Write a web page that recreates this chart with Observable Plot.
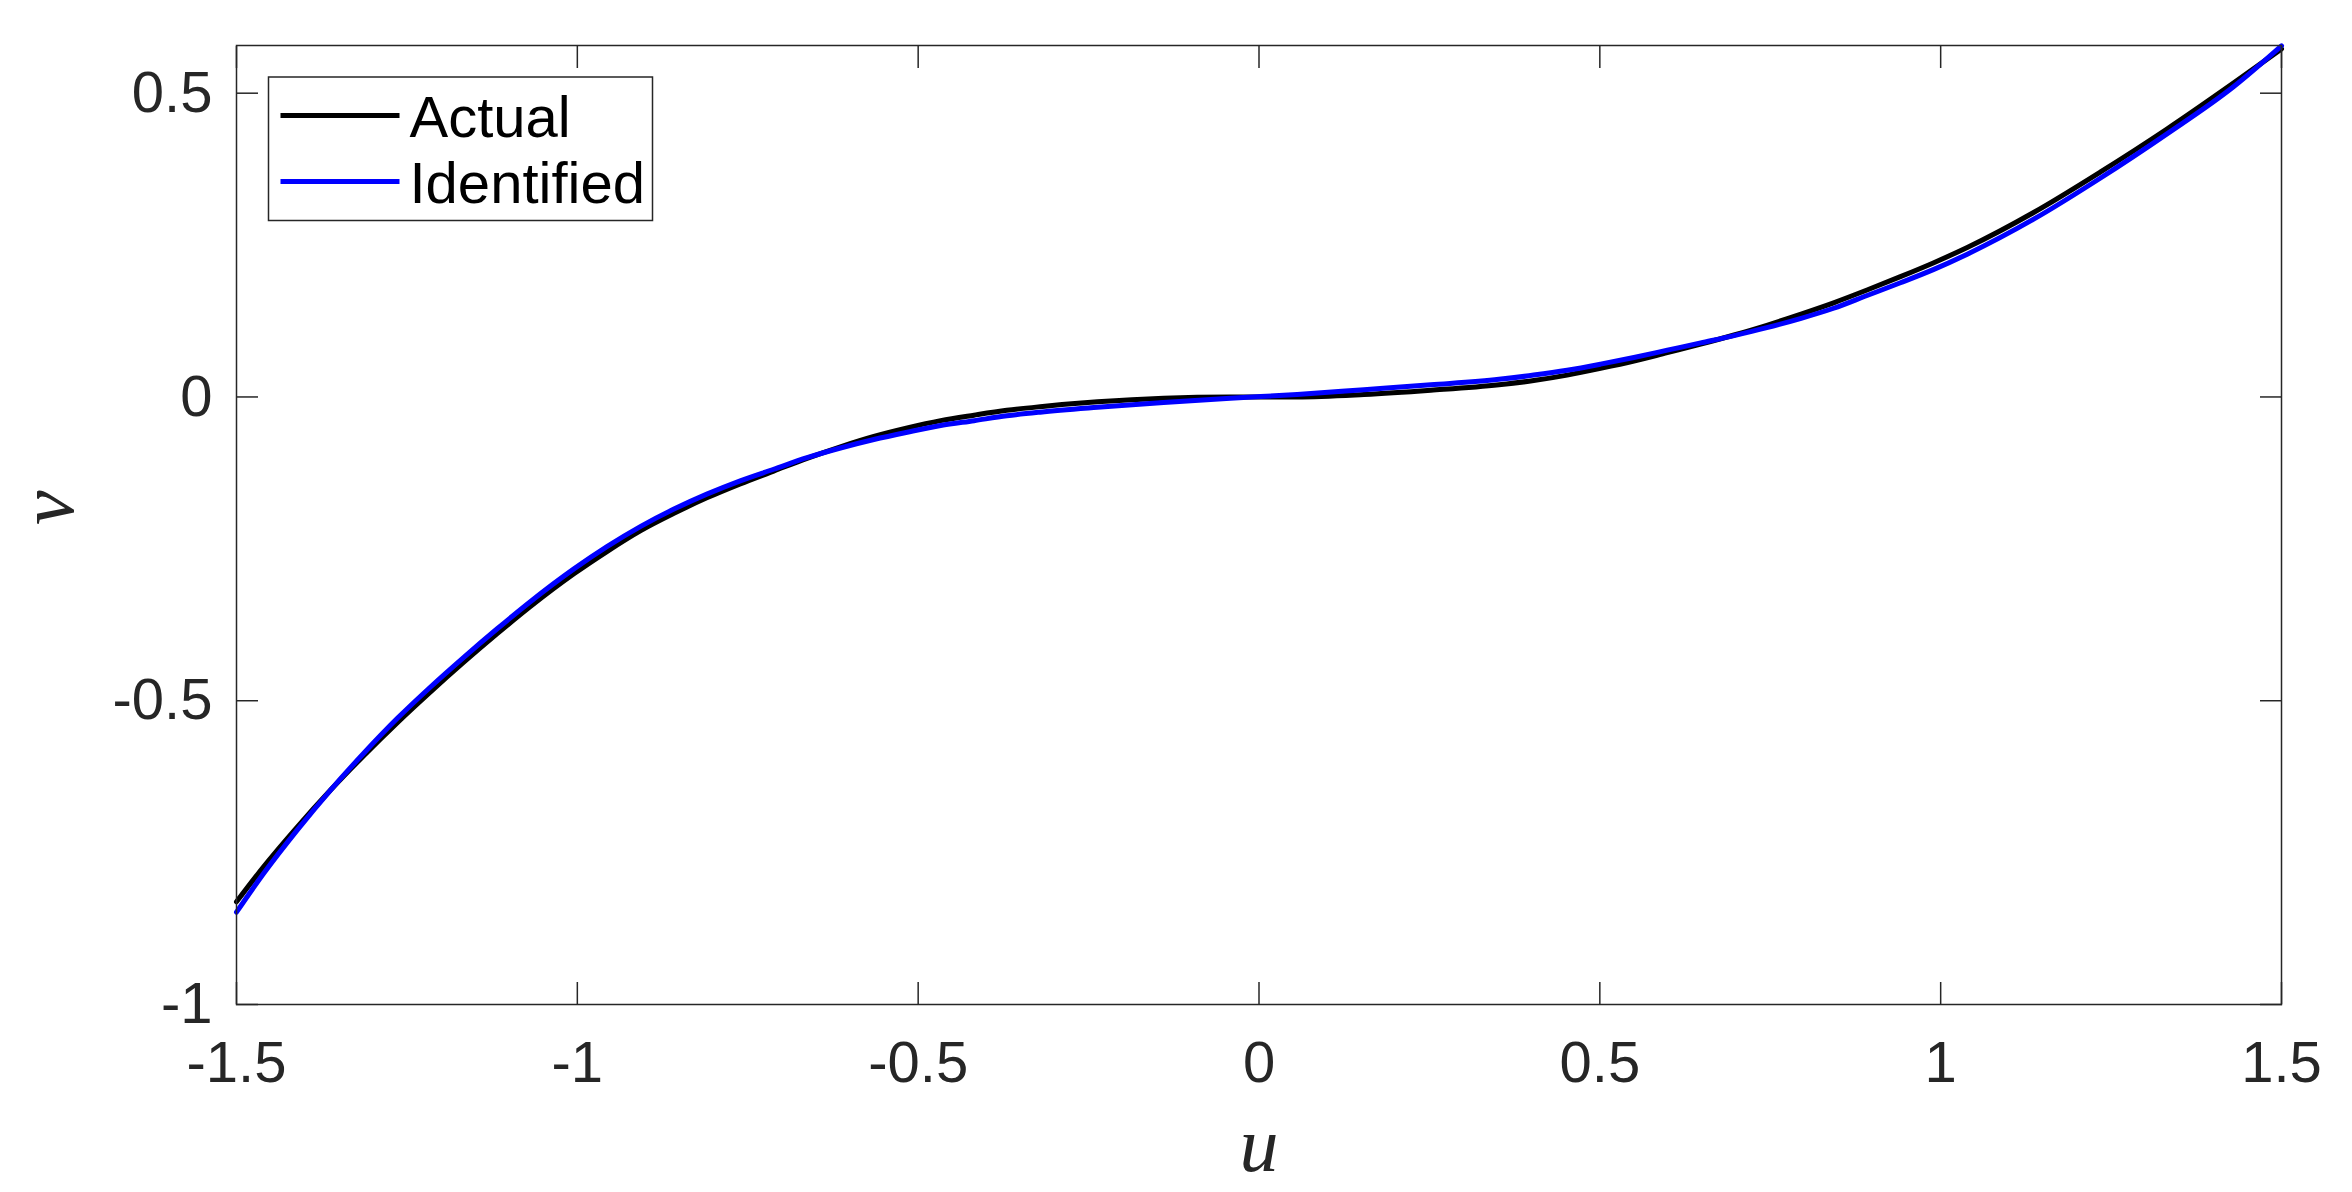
<!DOCTYPE html>
<html>
<head>
<meta charset="utf-8">
<script src="https://cdn.jsdelivr.net/npm/d3@7"></script>
<script src="https://cdn.jsdelivr.net/npm/@observablehq/plot@0.6"></script>
<style>
  html, body { margin: 0; padding: 0; background: #ffffff; }
  #chart svg { display: block; }
</style>
</head>
<body>
<div id="chart"></div>
<script>
// ---- data ----
const seriesNames = ["Actual", "Identified"];
const seriesColors = ["#000000", "#0000ff"];

const uValues = [
  -1.5, -1.46, -1.411, -1.362, -1.313, -1.264, -1.215, -1.167, -1.118, -1.069,
  -1.005, -0.956, -0.907, -0.859, -0.81, -0.761, -0.712, -0.663, -0.614, -0.565,
  -0.516, -0.467, -0.418, -0.37, -0.321, -0.237, -0.14, -0.042, 0.056, 0.154,
  0.252, 0.352, 0.403, 0.452, 0.501, 0.55, 0.599, 0.648, 0.697, 0.745,
  0.794, 0.843, 0.892, 0.941, 0.99, 1.039, 1.137, 1.234, 1.332, 1.43, 1.5
];
const actualV = [
  -0.831, -0.773, -0.708, -0.647, -0.590, -0.536, -0.485, -0.437, -0.390, -0.345,
  -0.291, -0.254, -0.220, -0.192, -0.166, -0.143, -0.122, -0.101, -0.082, -0.065,
  -0.051, -0.039, -0.030, -0.022, -0.016, -0.008, -0.002, 0.000, 0.000, 0.004,
  0.011, 0.020, 0.027, 0.036, 0.047, 0.059, 0.073, 0.087, 0.102, 0.118,
  0.136, 0.155, 0.176, 0.198, 0.221, 0.246, 0.304, 0.370, 0.441, 0.517, 0.573
];
const identifiedV = [
  -0.848, -0.784, -0.713, -0.647, -0.586, -0.529, -0.477, -0.429, -0.382, -0.337,
  -0.283, -0.246, -0.213, -0.185, -0.160, -0.138, -0.119, -0.100, -0.084, -0.070,
  -0.058, -0.047, -0.039, -0.031, -0.025, -0.017, -0.009, -0.002, 0.004, 0.012,
  0.020, 0.029, 0.036, 0.044, 0.054, 0.065, 0.077, 0.089, 0.101, 0.114,
  0.129, 0.146, 0.167, 0.188, 0.210, 0.235, 0.293, 0.360, 0.433, 0.511, 0.578
];

const xTicks = [-1.5, -1, -0.5, 0, 0.5, 1, 1.5];
const yTicks = [-1, -0.5, 0, 0.5];
const xDomain = [-1.5, 1.5];
const yDomain = [-1, 0.5785];
const xLabel = "u";
const yLabel = "v";

// ---- build table ----
const seriesValues = [actualV, identifiedV];
const rows = seriesNames.flatMap((name, s) =>
  uValues.map((u, i) => ({series: name, u, v: seriesValues[s][i]}))
);

// ---- style ----
const axisColor = "#262626";
const sansFont = "'Liberation Sans', Arial, Helvetica, sans-serif";
const serifFont = "'Liberation Serif', 'Times New Roman', serif";
const tickFont = 58;
const labelFont = 78;
const lineW = 5;
const tickLen = 22;

// legend drawn with d3 inside the plot, anchored to the frame's top-left
function legendMark(index, scales, values, dims) {
  const g = d3.create("svg:g");
  const bx = dims.marginLeft + 32.5, by = dims.marginTop + 32;
  const bw = 384, bh = 143.5;
  g.append("rect")
    .attr("x", bx).attr("y", by).attr("width", bw).attr("height", bh)
    .attr("fill", "white").attr("stroke", axisColor).attr("stroke-width", 1.5);
  seriesNames.forEach((name, i) => {
    const ly = by + 38.5 + 66 * i;
    g.append("line")
      .attr("x1", bx + 12).attr("x2", bx + 131)
      .attr("y1", ly).attr("y2", ly)
      .attr("stroke", seriesColors[i]).attr("stroke-width", lineW);
    g.append("text")
      .attr("x", bx + 141).attr("y", ly + 21)
      .attr("text-anchor", "start")
      .attr("font-family", sansFont).attr("font-size", tickFont)
      .attr("fill", "#000").text(name);
  });
  return g.node();
}

const chart = Plot.plot({
  width: 2352,
  height: 1192,
  marginLeft: 236,
  marginRight: 71,
  marginTop: 45,
  marginBottom: 188,
  style: {background: "#ffffff", color: axisColor, fontFamily: sansFont},
  x: {domain: xDomain, label: null},
  y: {domain: yDomain, label: null},
  marks: [
    Plot.line(rows.filter(d => d.series === seriesNames[0]),
      {x: "u", y: "v", stroke: seriesColors[0], strokeWidth: lineW, curve: "monotone-x"}),
    Plot.line(rows.filter(d => d.series === seriesNames[1]),
      {x: "u", y: "v", stroke: seriesColors[1], strokeWidth: lineW, curve: "monotone-x"}),
    // tick labels
    Plot.axisX({ticks: xTicks, anchor: "bottom", tickSize: 0, tickPadding: 36,
      tickFormat: d => String(d), fontSize: tickFont, label: null}),
    Plot.axisY({ticks: yTicks, anchor: "left", tickSize: 0, tickPadding: 24,
      tickFormat: d => String(d), fontSize: tickFont, label: null}),
    // inward tick marks on all four sides
    Plot.axisX({ticks: xTicks, anchor: "bottom", tickSize: -tickLen, tickFormat: () => "",
      strokeWidth: 1.5, label: null}),
    Plot.axisX({ticks: xTicks, anchor: "top", tickSize: -tickLen, tickFormat: () => "",
      strokeWidth: 1.5, label: null}),
    Plot.axisY({ticks: yTicks, anchor: "left", tickSize: -tickLen, tickFormat: () => "",
      strokeWidth: 1.5, label: null}),
    Plot.axisY({ticks: yTicks, anchor: "right", tickSize: -tickLen, tickFormat: () => "",
      strokeWidth: 1.5, label: null}),
    Plot.frame({stroke: axisColor, strokeWidth: 1.5}),
    // axis titles
    Plot.text([xLabel], {text: d => d, frameAnchor: "bottom", lineAnchor: "bottom", dy: 166,
      fontFamily: serifFont, fontStyle: "italic", fontSize: labelFont, fill: axisColor}),
    Plot.text([yLabel], {text: d => d, frameAnchor: "left", lineAnchor: "bottom", rotate: -90, dx: -164,
      fontFamily: serifFont, fontStyle: "italic", fontSize: labelFont, fill: axisColor}),
    legendMark
  ]
});

document.getElementById("chart").appendChild(chart);
</script>
</body>
</html>
